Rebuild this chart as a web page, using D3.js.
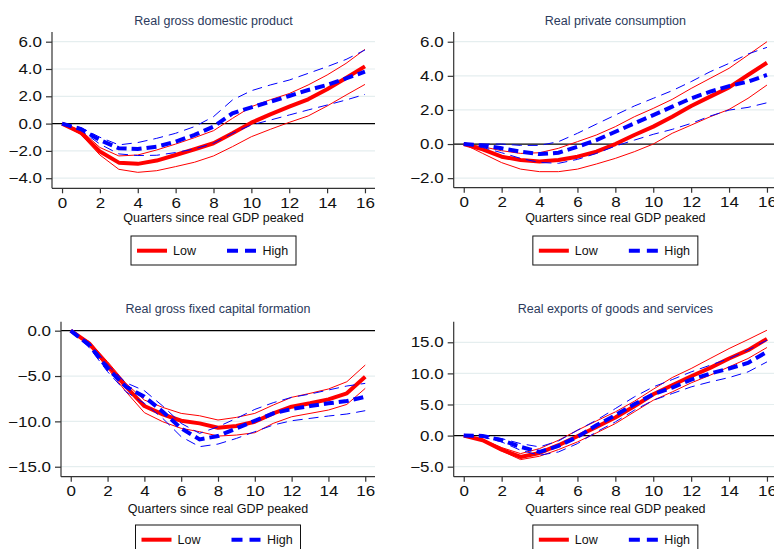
<!DOCTYPE html>
<html>
<head>
<meta charset="utf-8">
<script src="https://cdn.jsdelivr.net/npm/d3@7/dist/d3.min.js"></script>
<style>
  html, body { margin: 0; padding: 0; background: #fff; }
  svg { display: block; font-family: "Liberation Sans", Arial, sans-serif; }
</style>
</head>
<body>
<svg id="chart" width="774" height="549"></svg>
<script>
// Quarters since the real GDP peak
const quarters = [0, 1, 2, 3, 4, 5, 6, 7, 8, 9, 10, 11, 12, 13, 14, 15, 16];

// Real gross domestic product
const gdpLow      = [0, -0.66, -2.05, -2.86, -2.95, -2.71, -2.30, -1.88, -1.44, -0.71, 0.07, 0.68, 1.24, 1.78, 2.51, 3.34, 4.19];
const gdpLowUp    = [0, -0.50, -1.75, -2.37, -2.30, -1.93, -1.50, -1.03, -0.52, 0.38, 1.24, 1.75, 2.20, 2.83, 3.56, 4.41, 5.44];
const gdpLowLo    = [0, -0.80, -2.30, -3.35, -3.57, -3.45, -3.15, -2.83, -2.37, -1.69, -0.96, -0.42, 0.09, 0.56, 1.29, 2.09, 2.87];
const gdpHigh     = [0, -0.40, -1.20, -1.81, -1.86, -1.69, -1.32, -0.83, -0.22, 0.75, 1.19, 1.60, 2.02, 2.46, 2.83, 3.31, 3.80];
const gdpHighUp   = [0, -0.30, -1.00, -1.56, -1.39, -1.08, -0.71, -0.22, 0.51, 1.73, 2.41, 2.83, 3.19, 3.68, 4.17, 4.70, 5.39];
const gdpHighLo   = [0, -0.50, -1.50, -2.22, -2.34, -2.32, -2.12, -1.86, -1.44, -0.71, -0.10, 0.26, 0.63, 1.00, 1.36, 1.73, 2.14];

// Real private consumption
const consLow     = [0, -0.31, -0.74, -0.94, -1.02, -0.94, -0.74, -0.45, 0.00, 0.53, 1.02, 1.60, 2.23, 2.78, 3.32, 4.05, 4.77];
const consLowUp   = [0, -0.16, -0.39, -0.55, -0.51, -0.25, 0.14, 0.53, 1.02, 1.60, 2.09, 2.62, 3.26, 3.85, 4.44, 5.22, 6.00];
const consLowLo   = [0, -0.55, -1.09, -1.47, -1.62, -1.62, -1.47, -1.17, -0.84, -0.45, 0.00, 0.63, 1.11, 1.60, 2.03, 2.68, 3.46];
const consHigh    = [0, -0.08, -0.25, -0.45, -0.59, -0.51, -0.16, 0.23, 0.72, 1.21, 1.70, 2.19, 2.68, 3.07, 3.40, 3.66, 4.05];
const consHighUp  = [0, 0.00, 0.00, -0.08, -0.08, 0.14, 0.63, 1.17, 1.70, 2.23, 2.68, 3.13, 3.66, 4.24, 4.73, 5.28, 5.67];
const consHighLo  = [0, -0.20, -0.51, -0.84, -1.08, -1.13, -0.90, -0.55, -0.12, 0.23, 0.57, 0.86, 1.21, 1.64, 1.99, 2.15, 2.42];

// Real gross fixed capital formation
const gfcfLow     = [0, -1.40, -3.79, -6.18, -8.31, -9.23, -9.93, -10.22, -10.70, -10.51, -10.04, -9.12, -8.38, -8.01, -7.57, -6.91, -5.07];
const gfcfLowUp   = [0, -1.21, -3.42, -5.81, -7.65, -8.46, -9.12, -9.38, -9.85, -9.56, -9.12, -8.20, -7.35, -6.91, -6.43, -5.63, -3.79];
const gfcfLowLo   = [0, -1.58, -4.15, -6.73, -9.04, -10.04, -10.77, -11.14, -11.62, -11.51, -11.25, -10.22, -9.49, -9.12, -8.75, -8.13, -6.36];
const gfcfHigh    = [0, -1.58, -4.15, -6.18, -7.28, -8.93, -10.77, -11.99, -11.62, -10.77, -9.93, -9.12, -8.64, -8.31, -8.01, -7.76, -7.28];
const gfcfHighUp  = [0, -1.32, -3.79, -5.74, -6.62, -8.31, -10.22, -11.32, -10.59, -9.67, -8.68, -7.94, -7.35, -6.99, -6.54, -6.10, -5.81];
const gfcfHighLo  = [0, -1.84, -4.52, -6.73, -8.01, -9.67, -11.69, -12.79, -12.50, -11.88, -11.14, -10.40, -9.93, -9.67, -9.41, -9.19, -8.82];

// Real exports of goods and services
const expLow      = [0, -0.75, -2.25, -3.43, -2.79, -1.55, -0.11, 1.39, 2.90, 4.72, 6.65, 8.10, 9.54, 10.88, 12.39, 13.73, 15.55];
const expLowUp    = [0, -0.64, -1.93, -2.90, -2.09, -0.75, 0.86, 2.36, 3.81, 5.52, 7.45, 9.33, 10.78, 12.39, 13.99, 15.44, 16.94];
const expLowLo    = [0, -0.86, -2.47, -3.86, -3.32, -2.25, -1.02, 0.43, 1.93, 3.81, 5.68, 7.02, 8.47, 9.71, 11.05, 12.39, 14.16];
const expHigh     = [0, -0.05, -0.75, -1.82, -2.63, -1.66, -0.21, 1.66, 3.27, 5.04, 6.65, 7.72, 9.00, 9.97, 10.78, 11.69, 13.46];
const expHighUp   = [0, 0.05, -0.48, -1.29, -1.82, -0.86, 0.86, 2.47, 4.34, 6.22, 7.83, 9.00, 10.24, 11.31, 12.39, 13.73, 15.34];
const expHighLo   = [0, -0.21, -1.02, -2.36, -3.16, -2.63, -1.29, 0.59, 2.20, 4.08, 5.68, 6.76, 7.83, 8.63, 9.33, 10.24, 11.85];

// Axis ticks
const xTicks = [0, 2, 4, 6, 8, 10, 12, 14, 16];
const gdpTicks  = [-4, -2, 0, 2, 4, 6];
const consTicks = [-2, 0, 2, 4, 6];
const gfcfTicks = [-15, -10, -5, 0];
const expTicks  = [-5, 0, 5, 10, 15];

const titles = ["Real gross domestic product", "Real private consumption",
                "Real gross fixed capital formation", "Real exports of goods and services"];
const xTitle = "Quarters since real GDP peaked";
const legendLabels = ["Low", "High"];

const RED = "#ff0000", BLUE = "#0000ff";
const TICK_FONT = 14.5, TICK_WIDEN = 1.17;

const panels = [
  { title: titles[0], ticks: gdpTicks, yDom: [-4.74, 6.71],
    low: [gdpLow, gdpLowUp, gdpLowLo], high: [gdpHigh, gdpHighUp, gdpHighLo],
    box: { left: 52, right: 375, top: 32, bottom: 188.3, titleY: 25, xTitleY: 222, legendTop: 236 } },
  { title: titles[1], ticks: consTicks, yDom: [-2.56, 6.57],
    low: [consLow, consLowUp, consLowLo], high: [consHigh, consHighUp, consHighLo],
    box: { left: 453.7, right: 777, top: 32, bottom: 187.7, titleY: 25, xTitleY: 222, legendTop: 236 } },
  { title: titles[2], ticks: gfcfTicks, yDom: [-16.1, 0.99],
    low: [gfcfLow, gfcfLowUp, gfcfLowLo], high: [gfcfHigh, gfcfHighUp, gfcfHighLo],
    box: { left: 61, right: 375, top: 321.7, bottom: 476.7, titleY: 313, xTitleY: 512.5, legendTop: 525 } },
  { title: titles[3], ticks: expTicks, yDom: [-6.61, 18.31],
    low: [expLow, expLowUp, expLowLo], high: [expHigh, expHighUp, expHighLo],
    box: { left: 453.7, right: 777, top: 321.7, bottom: 476.7, titleY: 313, xTitleY: 512.5, legendTop: 525 } }
];

const svg = d3.select("#chart");
const fmt = d3.format(".1f");

// tick labels are drawn slightly widened
function styleTickText(sel) {
  sel.attr("font-size", TICK_FONT).attr("fill", "#111")
    .attr("font-family", "Liberation Sans, Arial, sans-serif")
    .each(function () {
      const w = this.getComputedTextLength();
      d3.select(this).attr("textLength", w * TICK_WIDEN).attr("lengthAdjust", "spacingAndGlyphs");
    });
}

panels.forEach(p => {
  const b = p.box;
  const x = d3.scaleLinear().domain([-0.53, 16.53]).range([b.left, b.right]);
  const y = d3.scaleLinear().domain(p.yDom).range([b.bottom, b.top]);
  const g = svg.append("g");

  // horizontal gridlines
  g.selectAll("line.grid").data(p.ticks.filter(t => t !== 0)).join("line")
    .attr("x1", b.left).attr("x2", b.right)
    .attr("y1", d => y(d)).attr("y2", d => y(d))
    .attr("stroke", "#e5eeef").attr("stroke-width", 1.2);

  // reference line at zero
  g.append("line")
    .attr("x1", b.left).attr("x2", b.right)
    .attr("y1", y(0)).attr("y2", y(0))
    .attr("stroke", "#000").attr("stroke-width", 1.3);

  // y axis
  const yAxis = d3.axisLeft(y).tickValues(p.ticks).tickFormat(fmt).tickSize(6).tickPadding(4);
  const ya = g.append("g").attr("transform", `translate(${b.left},0)`).call(yAxis);
  ya.select(".domain").attr("d", `M0,${b.top}V${b.bottom}`).attr("stroke", "#333").attr("stroke-width", 1.2);
  ya.selectAll(".tick line").attr("stroke", "#333").attr("stroke-width", 1.2);
  ya.selectAll(".tick text").call(styleTickText);

  // x axis
  const xAxis = d3.axisBottom(x).tickValues(xTicks).tickFormat(d3.format("d")).tickSize(5).tickPadding(4);
  const xa = g.append("g").attr("transform", `translate(0,${b.bottom})`).call(xAxis);
  xa.select(".domain").attr("d", `M${b.left},0H${b.right}`).attr("stroke", "#333").attr("stroke-width", 1.2);
  xa.selectAll(".tick line").attr("stroke", "#333").attr("stroke-width", 1.2);
  xa.selectAll(".tick text").call(styleTickText);

  const mid = (b.left + b.right) / 2;
  g.append("text").attr("x", mid).attr("y", b.titleY).attr("text-anchor", "middle")
    .attr("font-size", 12.5).attr("fill", "#2b3a5c").text(p.title);
  g.append("text").attr("x", mid).attr("y", b.xTitleY).attr("text-anchor", "middle")
    .attr("font-size", 12.5).attr("fill", "#111").text(xTitle);

  const line = d3.line().x((d, i) => x(quarters[i])).y(d => y(d));

  // Low: point estimate and band edges (solid red)
  p.low.slice(1).forEach(s => g.append("path").attr("d", line(s))
    .attr("fill", "none").attr("stroke", RED).attr("stroke-width", 1));
  g.append("path").attr("d", line(p.low[0]))
    .attr("fill", "none").attr("stroke", RED).attr("stroke-width", 4).attr("stroke-linejoin", "round");

  // High: point estimate and band edges (dashed blue)
  p.high.slice(1).forEach(s => g.append("path").attr("d", line(s))
    .attr("fill", "none").attr("stroke", BLUE).attr("stroke-width", 1).attr("stroke-dasharray", "10,6"));
  g.append("path").attr("d", line(p.high[0]))
    .attr("fill", "none").attr("stroke", BLUE).attr("stroke-width", 4).attr("stroke-dasharray", "10,5");

  // legend
  const lw = 165, lh = 29;
  const lx = mid - lw / 2, ly = b.legendTop;
  const lg = g.append("g").attr("transform", `translate(${lx},${ly})`);
  lg.append("rect").attr("x", 0).attr("y", 0).attr("width", lw).attr("height", lh)
    .attr("fill", "#fff").attr("stroke", "#111").attr("stroke-width", 1);
  lg.append("line").attr("x1", 6).attr("x2", 36).attr("y1", 14.7).attr("y2", 14.7)
    .attr("stroke", RED).attr("stroke-width", 4);
  lg.append("text").attr("x", 42).attr("y", 19.2).attr("font-size", 12.5).attr("fill", "#111").text(legendLabels[0]);
  lg.append("line").attr("x1", 96).attr("x2", 125).attr("y1", 14.7).attr("y2", 14.7)
    .attr("stroke", BLUE).attr("stroke-width", 4).attr("stroke-dasharray", "11,7");
  lg.append("text").attr("x", 131.5).attr("y", 19.2).attr("font-size", 12.5).attr("fill", "#111").text(legendLabels[1]);
});
</script>
</body>
</html>
